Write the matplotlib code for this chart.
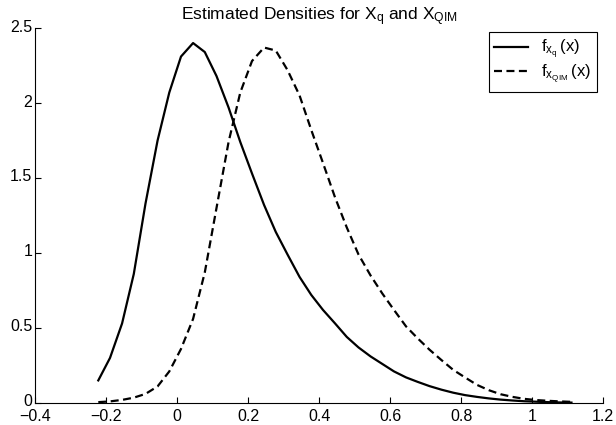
import matplotlib
matplotlib.use("Agg")
import matplotlib.pyplot as plt
import matplotlib.transforms as mtransforms

plt.rcParams['font.family'] = ['Liberation Sans', 'DejaVu Sans']
plt.rcParams['mathtext.default'] = 'regular'

# evaluation grid
x_grid = [-0.222, -0.189, -0.155, -0.122, -0.089, -0.055, -0.022, 0.011, 0.045, 0.078,
          0.111, 0.145, 0.178, 0.211, 0.245, 0.278, 0.311, 0.345, 0.378, 0.411,
          0.445, 0.478, 0.511, 0.545, 0.578, 0.611, 0.645, 0.678, 0.711, 0.745,
          0.778, 0.811, 0.845, 0.878, 0.911, 0.945, 0.978, 1.011, 1.045, 1.078, 1.111]

# estimated density of X_q
f_xq = [0.15, 0.30, 0.53, 0.86, 1.33, 1.75, 2.07, 2.31, 2.40, 2.34,
        2.18, 1.97, 1.74, 1.53, 1.32, 1.14, 0.99, 0.84, 0.72, 0.62,
        0.53, 0.44, 0.37, 0.31, 0.26, 0.21, 0.17, 0.14, 0.112, 0.088,
        0.068, 0.052, 0.040, 0.030, 0.022, 0.016, 0.011, 0.008, 0.005, 0.003, 0.002]

# estimated density of X_QIM
f_xqim = [0.005, 0.01, 0.02, 0.035, 0.06, 0.11, 0.21, 0.36, 0.56, 0.87,
          1.30, 1.74, 2.07, 2.28, 2.37, 2.35, 2.22, 2.05, 1.82, 1.60,
          1.37, 1.17, 0.99, 0.85, 0.73, 0.62, 0.51, 0.43, 0.355, 0.285,
          0.22, 0.17, 0.12, 0.085, 0.058, 0.040, 0.027, 0.019, 0.014, 0.010, 0.007]

x_ticks = [-0.4, -0.2, 0, 0.2, 0.4, 0.6, 0.8, 1, 1.2]
x_labels = ['\u22120.4', '\u22120.2', '0', '0.2', '0.4', '0.6', '0.8', '1', '1.2']
y_ticks = [0, 0.5, 1, 1.5, 2, 2.5]
y_labels = ['0', '0.5', '1', '1.5', '2', '2.5']

fig = plt.figure(figsize=(6.16, 4.25), dpi=100)
ax = fig.add_axes([0.057, 0.052, 0.922, 0.882])

ax.plot(x_grid, f_xq, color='black', lw=1.6, label=r'$f_{x_q}\,(x)$')
ax.plot(x_grid, f_xqim, color='black', lw=1.6, dashes=(3.6, 2.0),
        label=r'$f_{x_{QIM}}\,(x)$')

ax.set_xlim(-0.4, 1.2)
ax.set_ylim(0, 2.5)
ax.set_xticks(x_ticks)
ax.set_xticklabels(x_labels)
ax.set_yticks(y_ticks)
ax.set_yticklabels(y_labels)

for side in ['top', 'right']:
    ax.spines[side].set_visible(False)
for side in ['left', 'bottom']:
    ax.spines[side].set_linewidth(0.8)
ax.tick_params(direction='in', length=4, width=0.8, labelsize=11.5)
ax.tick_params(axis='x', pad=4.5)
ax.tick_params(axis='y', pad=2)

# nudge y labels up a little, like the original
shift = mtransforms.ScaledTranslation(0, 2.5 / 100, fig.dpi_scale_trans)
for lbl in ax.get_yticklabels():
    lbl.set_transform(lbl.get_transform() + shift)

ax.set_title(r'Estimated Densities for X$_q$ and X$_{QIM}$', fontsize=12.5, pad=5)

leg = ax.legend(loc='upper right', bbox_to_anchor=(0.989, 0.989), fontsize=12,
                handlelength=2.0, handletextpad=0.8, fancybox=False, framealpha=1,
                edgecolor='black', borderpad=0.35, labelspacing=0.1,
                borderaxespad=0)
leg.get_frame().set_linewidth(0.8)

fig.savefig('out.png', dpi=100)
